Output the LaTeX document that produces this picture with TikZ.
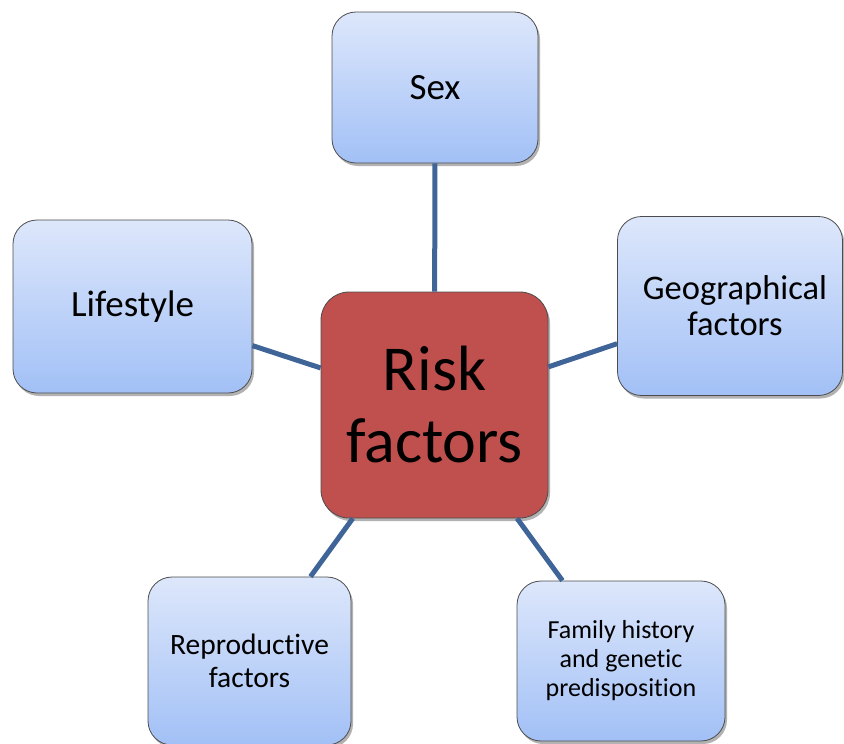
\documentclass[tikz,border=0pt]{standalone}
\usepackage{fontspec}
\setmainfont[Ligatures={NoCommon}]{Carlito}
\usetikzlibrary{shadows}
\definecolor{boxtop}{RGB}{221,231,251}
\definecolor{boxbot}{RGB}{162,192,246}
\definecolor{riskred}{RGB}{192,80,77}
\definecolor{linkblue}{RGB}{63,100,152}
\tikzset{
  base/.style={rounded corners=24pt, draw=black!70, line width=0.8pt, align=center,
    drop shadow={shadow xshift=2pt, shadow yshift=-3pt, fill=black, opacity=0.3}},
  bluebox/.style={base, top color=boxtop, bottom color=boxbot},
  riskbox/.style={base, fill=riskred, rounded corners=28pt},
  link/.style={draw=linkblue, line width=5pt}
}
\begin{document}
\begin{tikzpicture}[x=1pt,y=-1pt]
\useasboundingbox (0,0) rectangle (844,744);
\node[riskbox, minimum width=227pt, minimum height=226pt,
  font=\fontsize{64}{72}\selectfont] (risk) at (434.5,405) {Risk\\factors};
\node[bluebox, minimum width=206pt, minimum height=151pt,
  font=\fontsize{37}{38}\selectfont] (sex) at (435,87.5) {Sex};
\node[bluebox, minimum width=239pt, minimum height=173pt,
  font=\fontsize{37}{38}\selectfont] (life) at (132.5,306.5) {Lifestyle};
\node[bluebox, minimum width=225pt, minimum height=179pt,
  font=\fontsize{34.5}{36}\selectfont] (geo) at (730,306) {\hspace*{10pt}Geographical\\\hspace*{10pt}factors};
\node[bluebox, minimum width=203pt, minimum height=168pt,
  font=\fontsize{29.5}{33}\selectfont] (repro) at (249.5,661) {Reproductive\\factors};
\node[bluebox, minimum width=208pt, minimum height=160pt,
  font=\fontsize{26}{29}\selectfont] (family) at (621,661) {Family history\\and genetic\\predisposition};
\draw[link] (risk) -- (sex);
\draw[link] (risk) -- (life);
\draw[link] (risk) -- (geo);
\draw[link] (risk) -- (repro);
\draw[link] (risk) -- (family);
\end{tikzpicture}
\end{document}
